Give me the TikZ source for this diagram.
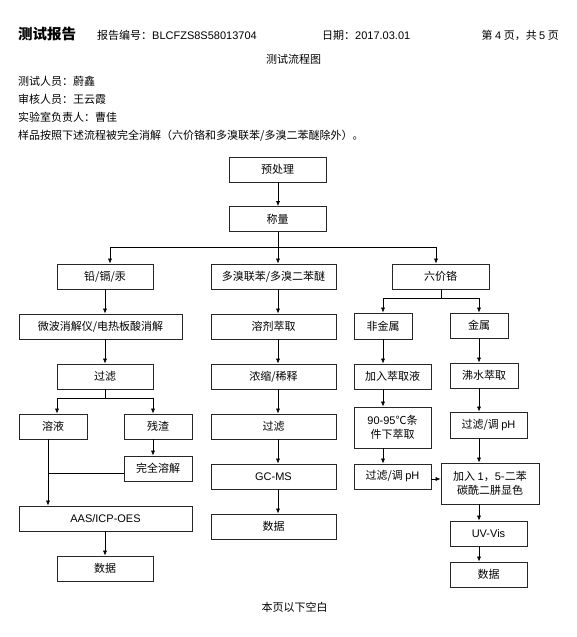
\documentclass[tikz,border=0pt]{standalone}
\usepackage{fontspec}
\setmainfont{Noto Sans CJK SC}
\newfontfamily\lat{Liberation Sans}
\usetikzlibrary{arrows.meta}
\begin{document}
\begin{tikzpicture}[x=1pt,y=-1pt,
  box/.style={draw=black!85,line width=0.7pt,inner sep=0pt,align=center,font=\fontsize{11}{14}\selectfont},
  txt/.style={inner sep=0pt,font=\fontsize{11}{13}\selectfont},
  arr/.style={line width=0.6pt,-{Latex[length=5pt,width=4pt]}},
  ln/.style={line width=0.6pt}]
\useasboundingbox (0,0) rectangle (577,637);
% header
\node[txt,anchor=base west,font=\fontsize{14.5}{16}\selectfont\bfseries] (title) at (18,39) {测试报告};
\node[txt,anchor=base west] (rno) at (97,39) {报告编号：{\lat BLCFZS8S58013704}};
\node[txt,anchor=base west] (date) at (322,39) {日期：{\lat 2017.03.01}};
\node[txt,anchor=base east] (page) at (559,39) {第 {\lat 4} 页，共 {\lat 5} 页};
\node[txt] (chart) at (293.5,59) {测试流程图};
\node[txt,anchor=west] (p1) at (18,81) {测试人员：蔚鑫};
\node[txt,anchor=west] (p2) at (18,99) {审核人员：王云霞};
\node[txt,anchor=west] (p3) at (18,117) {实验室负责人：曹佳};
\node[txt,anchor=west] (p4) at (18,136) {样品按照下述流程被完全消解（六价铬和多溴联苯/多溴二苯醚除外）。};
\node[txt] (foot) at (294.5,607) {本页以下空白};
% top
\node[box,minimum width=97,minimum height=25] (pre) at (277.5,169.5) {预处理};
\node[box,minimum width=97,minimum height=25] (wt) at (277.5,219) {称量};
% left column
\node[box,minimum width=96,minimum height=25] (pb) at (105,276.5) {铅/镉/汞};
\node[box,minimum width=163,minimum height=25] (mw) at (100.5,326.5) {微波消解仪/电热板酸消解};
\node[box,minimum width=96,minimum height=25] (f1) at (105,376.5) {过滤};
\node[box,minimum width=68,minimum height=25] (sol) at (53,426.5) {溶液};
\node[box,minimum width=68,minimum height=25] (res) at (158,426.5) {残渣};
\node[box,minimum width=68,minimum height=25] (dis) at (158,468.5) {完全溶解};
\node[box,minimum width=173,minimum height=25] (aas) at (105.5,518.5) {\lat AAS/ICP-OES};
\node[box,minimum width=96,minimum height=25] (d1) at (105,568.5) {数据};
% middle column
\node[box,minimum width=125,minimum height=25] (m1) at (273.5,276.5) {多溴联苯/多溴二苯醚};
\node[box,minimum width=125,minimum height=25] (m2) at (273.5,326.5) {溶剂萃取};
\node[box,minimum width=125,minimum height=25] (m3) at (273.5,376.5) {浓缩/稀释};
\node[box,minimum width=125,minimum height=25] (m4) at (273.5,426.5) {过滤};
\node[box,minimum width=125,minimum height=25] (m5) at (273.5,476.5) {\lat GC-MS};
\node[box,minimum width=125,minimum height=25] (m6) at (273.5,526.5) {数据};
% right column
\node[box,minimum width=97,minimum height=25] (cr) at (440.5,276.5) {六价铬};
\node[box,minimum width=58,minimum height=26] (nm) at (383,326) {非金属};
\node[box,minimum width=58,minimum height=25] (me) at (479,325.5) {金属};
\node[box,minimum width=77,minimum height=25] (r1) at (392.5,376.5) {加入萃取液};
\node[box,minimum width=68,minimum height=25] (r2) at (484,375.5) {沸水萃取};
\node[box,minimum width=77,minimum height=41] (r3) at (392.5,427.5) {{\lat 90-95}℃条\\件下萃取};
\node[box,minimum width=77,minimum height=26] (r4) at (488.5,425) {过滤/调 {\lat pH}};
\node[box,minimum width=77,minimum height=25] (r5) at (392.5,476.5) {过滤/调 {\lat pH}};
\node[box,minimum width=98,minimum height=41] (r6) at (490,483.5) {加入 {\lat 1}，{\lat 5}-二苯\\碳酰二肼显色};
\node[box,minimum width=77,minimum height=25] (r7) at (488.5,533.5) {\lat UV-Vis};
\node[box,minimum width=77,minimum height=25] (r8) at (488.5,574.5) {数据};
% helper coordinates
\coordinate (cx) at (278,0);
\coordinate (lx) at (105,0);
\coordinate (bx) at (110,0);
\coordinate (hx) at (436,0);
\coordinate (crx) at (441,0);
\coordinate (ax) at (383,0);
\coordinate (bbx) at (479,0);
\coordinate (solx) at (57,0);
\coordinate (resx) at (153,0);
\coordinate (sx) at (48,0);
\coordinate (yb) at (0,247);
\coordinate (ys) at (0,398);
\coordinate (yc) at (0,298);
\coordinate (yj) at (0,473);
\coordinate (yp) at (0,479);
% connectors
\draw[arr] (pre.south -| cx) -- (wt.north -| cx);
\draw[ln] (wt.south -| cx) -- (yb -| cx);
\draw[ln] (yb -| bx) -- (yb -| hx);
\draw[arr] (yb -| bx) -- (pb.north -| bx);
\draw[arr] (yb -| cx) -- (m1.north -| cx);
\draw[arr] (yb -| hx) -- (cr.north -| hx);
% left
\draw[arr] (pb.south -| lx) -- (mw.north -| lx);
\draw[arr] (mw.south -| lx) -- (f1.north -| lx);
\draw[ln] (f1.south -| lx) -- (ys -| lx);
\draw[ln] (ys -| solx) -- (ys -| resx);
\draw[arr] (ys -| solx) -- (sol.north -| solx);
\draw[arr] (ys -| resx) -- (res.north -| resx);
\draw[arr] (res.south -| resx) -- (dis.north -| resx);
\draw[arr] (sol.south -| sx) -- (aas.north -| sx);
\draw[ln] (yj -| dis.west) -- (yj -| sx);
\draw[arr] (aas.south -| lx) -- (d1.north -| lx);
% middle
\draw[arr] (m1.south -| cx) -- (m2.north -| cx);
\draw[arr] (m2.south -| cx) -- (m3.north -| cx);
\draw[arr] (m3.south -| cx) -- (m4.north -| cx);
\draw[arr] (m4.south -| cx) -- (m5.north -| cx);
\draw[arr] (m5.south -| cx) -- (m6.north -| cx);
% right
\draw[ln] (cr.south -| crx) -- (yc -| crx);
\draw[ln] (yc -| ax) -- (yc -| bbx);
\draw[arr] (yc -| ax) -- (nm.north -| ax);
\draw[arr] (yc -| bbx) -- (me.north -| bbx);
\draw[arr] (nm.south -| ax) -- (r1.north -| ax);
\draw[arr] (r1.south -| ax) -- (r3.north -| ax);
\draw[arr] (r3.south -| ax) -- (r5.north -| ax);
\draw[arr] (yp -| r5.east) -- (yp -| r6.west);
\draw[arr] (me.south -| bbx) -- (r2.north -| bbx);
\draw[arr] (r2.south -| bbx) -- (r4.north -| bbx);
\draw[arr] (r4.south -| bbx) -- (r6.north -| bbx);
\draw[arr] (r6.south -| bbx) -- (r7.north -| bbx);
\draw[arr] (r7.south -| bbx) -- (r8.north -| bbx);
\end{tikzpicture}
\end{document}
